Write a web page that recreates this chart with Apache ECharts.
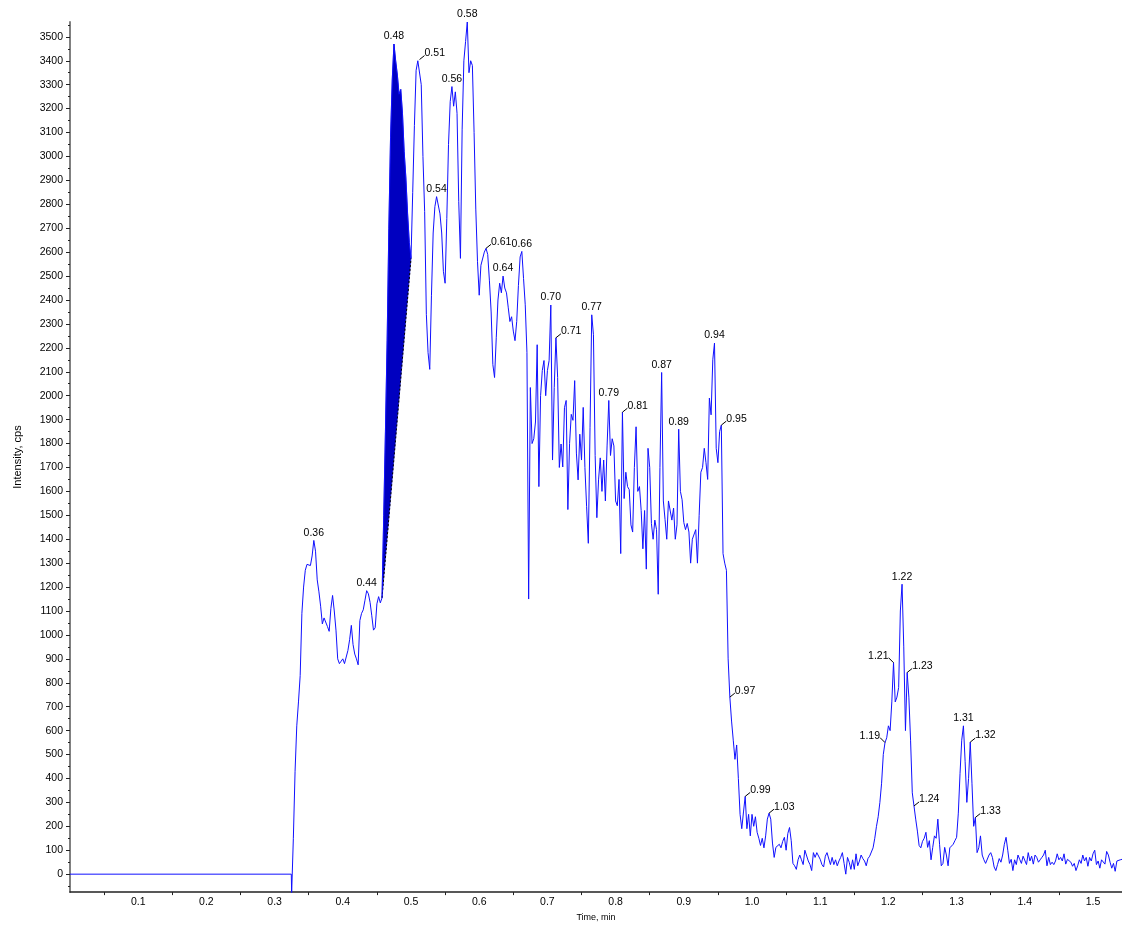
<!DOCTYPE html>
<html>
<head>
<meta charset="utf-8">
<script src="https://cdn.jsdelivr.net/npm/echarts@6/dist/echarts.min.js"></script>
<style>
html,body{margin:0;padding:0;background:#fff;overflow:hidden;}
#chart{width:1122px;height:927px;}
</style>
</head>
<body>
<div id="chart"></div>
<script>
// ---- data ----
const leadTimes = [0, 0.3245];
const leadValues = [0, 0];
const T0 = 0.325;      // first sample of the acquired trace (min)
const DT = 0.0025;     // sampling interval (min)
const intensity = [
  -80,150,430,620,720,830,1090,1200,1270,1295,
  1300,1290,1330,1395,1350,1230,1180,1120,1046,1071,
  1067,1035,1015,1110,1165,1100,1020,900,880,890,
  900,880,884,935,980,1040,960,920,900,875,
  1060,1090,1105,1145,1185,1172,1136,1080,1020,1030,
  1130,1160,1134,1155,1500,1850,2230,2700,3080,3320,
  3470,3400,3340,3260,3280,3180,3020,2910,2760,2640,
  2574,2850,3130,3360,3400,3405,3300,3000,2770,2340,
  2180,2110,2420,2680,2790,2832,2825,2760,2680,2520,
  2470,2740,3050,3230,3292,3210,3270,3180,2811,2574,
  3114,3400,3480,3562,3350,3400,3380,3100,2780,2560,
  2420,2545,2540,2600,2616,2590,2480,2350,2130,2076,
  2242,2400,2470,2430,2500,2450,2430,2370,2310,2330,
  2270,2230,2310,2460,2580,2603,2490,2380,2180,1150,
  2034,1800,1820,1890,2213,1620,2000,2105,2147,2000,
  2105,2147,2379,1731,2034,2242,2076,1700,1798,1702,
  1950,1980,1524,1800,1922,1897,2063,1760,1648,1839,
  1731,1951,1700,1536,1383,1868,2338,2255,1750,1490,
  1648,1740,1600,1731,1560,1790,1980,1750,1820,1790,
  1560,1540,1650,1340,1931,1570,1680,1620,1607,1460,
  1430,1700,1870,1600,1620,1520,1360,1520,1275,1780,
  1700,1466,1400,1480,1440,1170,1700,2097,1560,1482,
  1400,1560,1560,1480,1530,1400,1460,1860,1600,1565,
  1470,1440,1466,1430,1300,1400,1400,1440,1300,1500,
  1680,1700,1780,1720,1650,1990,1920,2150,2220,1780,
  1720,1850,1877,1340,1300,1270,900,740,640,560,
  480,540,400,250,190,260,325,190,250,160,
  250,200,240,175,150,120,150,110,160,230,
  255,230,130,70,112,110,125,110,137,154,
  100,170,195,140,45,35,20,60,80,60,
  40,100,104,55,40,15,90,70,90,85,
  62,40,30,75,90,85,40,70,40,60,
  35,55,70,90,45,0,70,50,20,60,
  20,85,35,55,80,65,55,35,65,75,
  80,110,150,200,240,300,380,500,550,570,
  620,600,720,884,720,740,780,1100,1212,950,
  600,843,740,560,340,285,230,180,120,110,
  137,150,175,112,140,60,112,160,150,230,
  125,35,45,112,80,35,110,112,125,140,
  154,255,420,560,620,470,300,400,552,380,
  200,237,90,110,160,80,60,45,50,80,
  90,70,30,15,40,65,50,80,125,154,
  100,45,62,15,60,40,80,62,45,75,
  80,40,90,55,75,42,80,70,50,60,
  70,80,100,35,70,40,50,40,55,85,
  60,70,55,85,42,62,70,50,33,45,
  15,35,60,45,80,55,70,33,70,55,
  85,100,40,55,25,60,55,42,95,80,
  50,25,45,12,55,50,60,62
];
// integrated peak (retention window, min)
const fillStart = 0.4575;
const fillEnd = 0.5;
// peak apex times and their labels
const apexTimes = [0.3575,0.435,0.475,0.5125,0.5375,0.56,0.5825,0.61,0.635,0.6625,
  0.705,0.7125,0.765,0.79,0.81,0.8675,0.8925,0.945,0.955,0.9675,
  0.99,1.025,1.195,1.2075,1.22,1.2275,1.2375,1.31,1.32,1.3275];
const apexLabels = ['0.36','0.44','0.48','0.51','0.54','0.56','0.58','0.61','0.64','0.66',
  '0.70','0.71','0.77','0.79','0.81','0.87','0.89','0.94','0.95','0.97',
  '0.99','1.03','1.19','1.21','1.22','1.23','1.24','1.31','1.32','1.33'];
const leaderRight = ['0.51','0.61','0.71','0.81','0.95','0.97','0.99','1.03','1.23','1.24','1.32','1.33'];
const leaderLeft = ['1.19','1.21'];
// axis ticks
const xTickValues = [0.1,0.2,0.3,0.4,0.5,0.6,0.7,0.8,0.9,1.0,1.1,1.2,1.3,1.4,1.5];
const xMinorTicks = [0.05,0.15,0.25,0.35,0.45,0.55,0.65,0.75,0.85,0.95,1.05,1.15,1.25,1.35,1.45];
const yTickValues = [0,100,200,300,400,500,600,700,800,900,1000,1100,1200,1300,1400,1500,1600,1700,
  1800,1900,2000,2100,2200,2300,2400,2500,2600,2700,2800,2900,3000,3100,3200,3300,3400,3500];
const yMinorTicks = [-50,50,150,250,350,450,550,650,750,850,950,1050,1150,1250,1350,1450,1550,1650,1750,
  1850,1950,2050,2150,2250,2350,2450,2550,2650,2750,2850,2950,3050,3150,3250,3350,3450,3550];

// ---- build ----
const times = intensity.map((_, i) => +(T0 + i * DT).toFixed(4));
const idxOf = t => Math.round((t - T0) / DT);
const lineData = leadTimes.map((t, i) => [t, leadValues[i]])
  .concat(times.map((t, i) => [t, intensity[i]]));
const i0 = idxOf(fillStart), i1 = idxOf(fillEnd);
const labelData = apexTimes.map(t => [t, intensity[idxOf(t)]]);

const FONT = '"Liberation Sans", Arial, sans-serif';
const chart = echarts.init(document.getElementById('chart'), null, {renderer: 'canvas'});
const option = {
  animation: false,
  backgroundColor: '#fff',
  grid: {left: 70, top: 22, width: 1052, height: 876},
  xAxis: {
    type: 'value', min: 0, max: 1.5425,
    name: 'Time, min', nameLocation: 'middle', nameGap: 15,
    nameTextStyle: {fontSize: 9, color: '#000', fontFamily: FONT},
    axisLine: {show: true, onZero: false, lineStyle: {color: '#222', width: 1.5}},
    axisTick: {show: true, customValues: xMinorTicks, length: 3, lineStyle: {color: '#222'}},
    axisLabel: {customValues: xTickValues, formatter: v => v.toFixed(1), fontSize: 10.5,
      color: '#000', margin: 5, fontFamily: FONT},
    splitLine: {show: false}
  },
  yAxis: [{
    type: 'value', min: -75, max: 3562,
    name: 'Intensity, cps', nameLocation: 'middle', nameGap: 47, nameRotate: 90,
    nameTextStyle: {fontSize: 11, color: '#000', fontFamily: FONT},
    axisLine: {show: true, onZero: false, lineStyle: {color: '#808080', width: 2}},
    axisTick: {show: true, customValues: yTickValues, length: 4, lineStyle: {color: '#222'}},
    axisLabel: {customValues: yTickValues, formatter: v => String(Math.round(v)), fontSize: 10.5,
      color: '#000', margin: 7, fontFamily: FONT},
    splitLine: {show: false}
  }, {
    type: 'value', min: -75, max: 3562, position: 'left',
    axisLine: {show: false},
    axisTick: {show: true, customValues: yMinorTicks, length: 2, lineStyle: {color: '#222'}},
    axisLabel: {show: false},
    splitLine: {show: false}
  }],
  series: [{
    type: 'custom',
    z: 1,
    silent: true,
    data: [[times[i0], intensity[i0]]],
    encode: {x: 0, y: 1},
    renderItem: function (params, api) {
      const pts = [];
      for (let i = i0; i <= i1; i++) pts.push(api.coord([times[i], intensity[i]]));
      const a = pts[0], b = pts[pts.length - 1];
      return {type: 'group', children: [
        {type: 'polygon', shape: {points: pts}, style: {fill: '#0000c0', stroke: '#0000c0', lineWidth: 0.6}},
        {type: 'line', shape: {x1: a[0], y1: a[1], x2: b[0], y2: b[1]},
          style: {stroke: '#000', lineWidth: 1, lineDash: [2, 2]}, z2: 5}
      ]};
    }
  }, {
    type: 'line',
    data: lineData,
    showSymbol: false,
    symbol: 'none',
    sampling: null,
    clip: true,
    z: 3,
    lineStyle: {color: '#1010ff', width: 1}
  }, {
    type: 'custom',
    z: 5,
    silent: true,
    data: labelData,
    encode: {x: 0, y: 1},
    renderItem: function (params, api) {
      const p = api.coord([api.value(0), api.value(1)]);
      const txt = apexLabels[params.dataIndex];
      const font = '10.5px ' + FONT;
      if (leaderRight.indexOf(txt) >= 0) {
        return {type: 'group', children: [
          {type: 'line', shape: {x1: p[0], y1: p[1], x2: p[0] + 5, y2: p[1] - 4}, style: {stroke: '#000', lineWidth: 1}},
          {type: 'text', x: p[0] + 5, y: p[1] - 1, style: {text: txt, fill: '#000', font: font, align: 'left', verticalAlign: 'bottom'}}
        ]};
      }
      if (leaderLeft.indexOf(txt) >= 0) {
        return {type: 'group', children: [
          {type: 'line', shape: {x1: p[0], y1: p[1], x2: p[0] - 5, y2: p[1] - 5}, style: {stroke: '#000', lineWidth: 1}},
          {type: 'text', x: p[0] - 5, y: p[1] - 1, style: {text: txt, fill: '#000', font: font, align: 'right', verticalAlign: 'bottom'}}
        ]};
      }
      return {type: 'text', x: p[0], y: p[1] - 2,
        style: {text: txt, fill: '#000', font: font, align: 'center', verticalAlign: 'bottom'}};
    }
  }]
};
chart.setOption(option);
</script>
</body>
</html>
